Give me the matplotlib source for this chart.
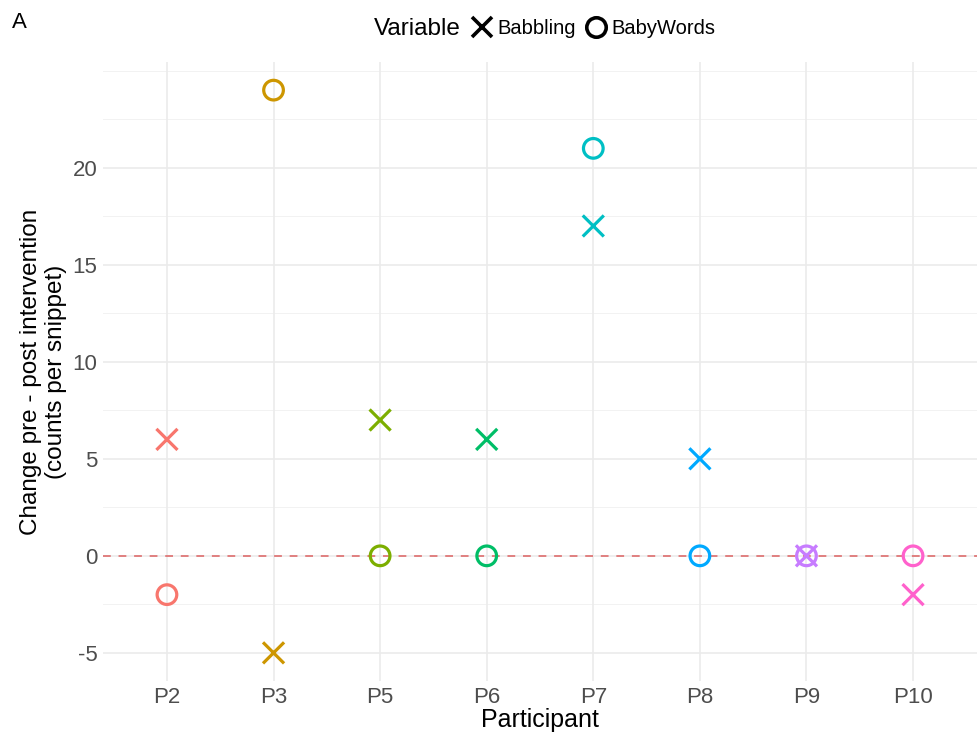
import numpy as np
import matplotlib
matplotlib.use("Agg")
import matplotlib.pyplot as plt
from matplotlib.lines import Line2D

plt.rcParams["font.family"] = ["Liberation Sans", "DejaVu Sans"]

participants = ["P2", "P3", "P5", "P6", "P7", "P8", "P9", "P10"]
babbling = [6, -5, 7, 6, 17, 5, 0, -2]
baby_words = [-2, 24, 0, 0, 21, 0, 0, 0]
colors = ["#F8766D", "#CD9600", "#7CAE00", "#00BE67",
          "#00BFC4", "#00A9FF", "#C77CFF", "#FF61CC"]
y_major = [-5, 0, 5, 10, 15, 20]
y_minor = [-2.5, 2.5, 7.5, 12.5, 17.5, 22.5, 25]


def main() -> None:
    fig = plt.figure(figsize=(9.77, 7.4), dpi=100)
    ax = fig.add_axes([103 / 977, 59 / 740, 874 / 977, 619 / 740])

    for y in y_minor:
        ax.axhline(y, color="#F2F2F2", lw=0.7, zorder=0)
    for y in y_major:
        ax.axhline(y, color="#EBEBEB", lw=1.2, zorder=0)
    for i in range(len(participants)):
        ax.axvline(i, color="#EBEBEB", lw=1.2, zorder=0)

    ax.axhline(0, color="#E07F7F", lw=1.4, ls=(0, (4, 4)), zorder=1)

    ax.scatter(participants, babbling, marker="x", s=230, c=colors,
               linewidths=2.3, zorder=3)
    ax.scatter(participants, baby_words, marker="o", s=200, facecolors="none",
               edgecolors=colors, linewidths=2.3, zorder=3)

    ax.set_xlim(-0.6, len(participants) - 0.4)
    ax.set_ylim(-6.45, 25.45)
    ax.set_yticks(y_major)
    ax.set_yticklabels([str(v) for v in y_major])
    for s in ax.spines.values():
        s.set_visible(False)
    ax.tick_params(length=0, labelsize=16, labelcolor="#4D4D4D", pad=4)
    ax.set_xlabel("Participant", fontsize=18, labelpad=0)
    ax.set_ylabel("Change pre - post intervention\n(counts per snippet)",
                  fontsize=17.5, labelpad=4, linespacing=1.15)

    fig.text(12 / 977, 1 - 23 / 740, "A", fontsize=16, va="center")
    fig.text(461 / 977, 1 - 29 / 740, "Variable", fontsize=17.5,
             va="center", ha="right")
    handles = [
        Line2D([], [], marker="x", ls="none", color="black", ms=15, mew=2.6),
        Line2D([], [], marker="o", ls="none", color="black", ms=14, mew=2.6,
               mfc="none"),
    ]
    fig.legend(handles, ["Babbling", "BabyWords"], ncol=2, frameon=False,
               loc="center left", bbox_to_anchor=(462 / 977, 1 - 29 / 740),
               fontsize=14.5, handlelength=1.0, handletextpad=0.25,
               columnspacing=0.5, borderpad=0)

    fig.savefig("out.png", dpi=100)


if __name__ == "__main__":
    main()
